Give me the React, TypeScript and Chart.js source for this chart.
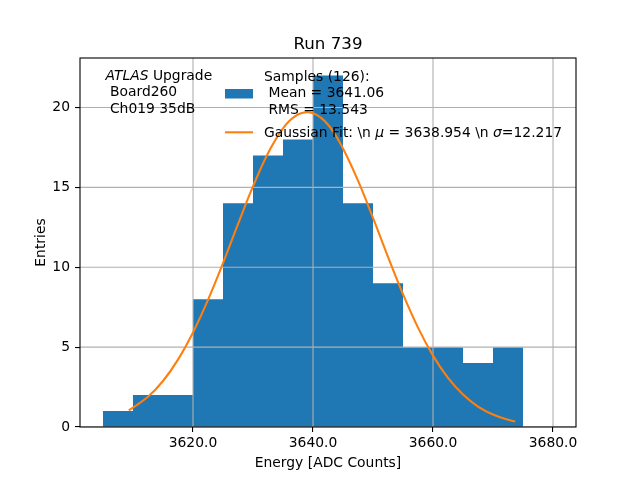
import React, { useEffect, useRef } from 'react';
import { Chart, registerables } from 'chart.js';
Chart.register(...registerables);

// ---- data ----
const binEdges = [3605, 3610, 3615, 3620, 3625, 3630, 3635, 3640, 3645, 3650, 3655, 3660, 3665, 3670, 3675];
const binCounts = [1, 2, 2, 8, 14, 17, 18, 22, 14, 9, 5, 5, 4, 5];
const fitX = [3609.3, 3612.5, 3615, 3617.5, 3620, 3622.5, 3625, 3627.5, 3630, 3632.5, 3635, 3637, 3639, 3641, 3643, 3645, 3647.5, 3650, 3652.5, 3655, 3657.5, 3660, 3662.5, 3665, 3667.5, 3670, 3672.5, 3673.7];
const fitY = [1.04, 1.89, 2.88, 4.22, 5.92, 7.96, 10.26, 12.7, 15.06, 17.14, 18.7, 19.45, 19.7, 19.45, 18.7, 17.43, 15.42, 13.09, 10.65, 8.31, 6.22, 4.47, 3.07, 2.03, 1.28, 0.78, 0.45, 0.34];
const xTicks = [3620, 3640, 3660, 3680];
const yTicks = [0, 5, 10, 15, 20];
const xMin = 3601.17;
const xMax = 3683.83;
const yMin = 0;
const yMax = 23.1;
const titleText = 'Run 739';
const xLabel = 'Energy [ADC Counts]';
const yLabel = 'Entries';
const histLegend = ['Samples (126):', ' Mean = 3641.06', ' RMS = 13.543'];
const fitLegend = [
  { t: 'Gaussian Fit: \\n ', i: false },
  { t: 'μ', i: true },
  { t: ' = 3638.954 \\n ', i: false },
  { t: 'σ', i: true },
  { t: '=12.217', i: false },
];
const infoLines = [
  [{ t: 'ATLAS', i: true }, { t: ' Upgrade', i: false }],
  [{ t: ' Board260', i: false }],
  [{ t: ' Ch019 35dB', i: false }],
];

const FAMILY = '"DejaVu Sans", sans-serif';
const FS = 13.89;
const BLUE = '#1f77b4';
const ORANGE = '#ff7f0e';

function drawSegs(ctx: CanvasRenderingContext2D, segs: { t: string; i: boolean }[], x: number, y: number) {
  let cx = x;
  for (const s of segs) {
    ctx.font = `${s.i ? 'italic ' : ''}${FS}px ${FAMILY}`;
    ctx.fillText(s.t, cx, y);
    cx += ctx.measureText(s.t).width;
  }
}

const overlay = {
  id: 'overlay',
  afterDatasetDraw(chart: any, args: any) {
    if (args.index !== 0) return;
    const { ctx, chartArea: a, scales } = chart;
    ctx.save();
    ctx.beginPath();
    ctx.rect(a.left, a.top, a.right - a.left, a.bottom - a.top);
    ctx.clip();
    ctx.strokeStyle = '#b0b0b0';
    ctx.lineWidth = 1.1;
    for (const t of scales.x.ticks) {
      const px = scales.x.getPixelForValue(t.value);
      ctx.beginPath();
      ctx.moveTo(px, a.top);
      ctx.lineTo(px, a.bottom);
      ctx.stroke();
    }
    for (const t of scales.y.ticks) {
      const py = scales.y.getPixelForValue(t.value);
      ctx.beginPath();
      ctx.moveTo(a.left, py);
      ctx.lineTo(a.right, py);
      ctx.stroke();
    }
    ctx.restore();
  },
  afterDraw(chart: any) {
    const { ctx, chartArea: a } = chart;
    ctx.save();
    // frame
    ctx.strokeStyle = '#000';
    ctx.lineWidth = 1.1;
    ctx.strokeRect(a.left, a.top, a.right - a.left, a.bottom - a.top);
    ctx.fillStyle = '#000';
    // title
    ctx.textAlign = 'center';
    ctx.textBaseline = 'alphabetic';
    ctx.font = `16.67px ${FAMILY}`;
    ctx.fillText(titleText, (a.left + a.right) / 2, 49);
    // x label
    ctx.font = `${FS}px ${FAMILY}`;
    ctx.fillText(xLabel, (a.left + a.right) / 2, 467);
    // y label
    ctx.save();
    ctx.translate(44.5, (a.top + a.bottom) / 2);
    ctx.rotate(-Math.PI / 2);
    ctx.fillText(yLabel, 0, 0);
    ctx.restore();
    // info text
    ctx.textAlign = 'left';
    const infoBase = [79.5, 96, 112.5];
    infoLines.forEach((segs, k) => drawSegs(ctx, segs, 105.5, infoBase[k]));
    // legend
    ctx.fillStyle = BLUE;
    ctx.fillRect(225, 89, 28, 9.5);
    ctx.strokeStyle = ORANGE;
    ctx.lineWidth = 2.08;
    ctx.beginPath();
    ctx.moveTo(225, 132.3);
    ctx.lineTo(253, 132.3);
    ctx.stroke();
    ctx.fillStyle = '#000';
    const legBase = [80.6, 97.3, 114];
    histLegend.forEach((s, k) => drawSegs(ctx, [{ t: s, i: false }], 264, legBase[k]));
    drawSegs(ctx, fitLegend, 264, 136.5);
    ctx.restore();
  },
};

export default function App() {
  const ref = useRef<HTMLCanvasElement | null>(null);
  useEffect(() => {
    if (!ref.current) return;
    const histPts = binCounts.map((c, k) => ({ x: binEdges[k], y: c }));
    histPts.push({ x: binEdges[binEdges.length - 1], y: binCounts[binCounts.length - 1] });
    const fitPts = fitX.map((x, k) => ({ x, y: fitY[k] }));
    const tickFont = { family: FAMILY, size: FS };
    const chart = new Chart(ref.current, {
      type: 'line',
      data: {
        datasets: [
          {
            label: 'hist',
            data: histPts,
            stepped: 'before',
            fill: 'origin',
            backgroundColor: BLUE,
            borderColor: 'rgba(0,0,0,0)',
            borderWidth: 0,
            pointRadius: 0,
            order: 1,
          },
          {
            label: 'fit',
            data: fitPts,
            borderColor: ORANGE,
            borderWidth: 2.08,
            pointRadius: 0,
            fill: false,
            tension: 0.4,
            order: 0,
          },
        ],
      } as any,
      options: {
        animation: false,
        responsive: false,
        devicePixelRatio: 1,
        layout: { padding: { left: 0, top: 58, right: 64, bottom: 0 } },
        plugins: { legend: { display: false }, tooltip: { enabled: false }, title: { display: false } },
        scales: {
          x: {
            type: 'linear',
            min: xMin,
            max: xMax,
            afterBuildTicks: (s: any) => { s.ticks = xTicks.map((v) => ({ value: v })); },
            afterFit: (s: any) => { s.height = 53; },
            ticks: { callback: (v: any) => Number(v).toFixed(1), font: tickFont, color: '#000', padding: 3, maxRotation: 0, autoSkip: false },
            grid: { display: true, drawOnChartArea: false, drawTicks: true, tickLength: 5, color: '#000', lineWidth: 1.1 },
            border: { display: false },
          },
          y: {
            type: 'linear',
            min: yMin,
            max: yMax,
            afterBuildTicks: (s: any) => { s.ticks = yTicks.map((v) => ({ value: v })); },
            afterFit: (s: any) => { s.width = 80; },
            ticks: { callback: (v: any) => String(v), font: tickFont, color: '#000', padding: 5, autoSkip: false },
            grid: { display: true, drawOnChartArea: false, drawTicks: true, tickLength: 5, color: '#000', lineWidth: 1.1 },
            border: { display: false },
          },
        },
      } as any,
      plugins: [overlay],
    });
    return () => chart.destroy();
  }, []);
  return (
    <div style={{ position: 'absolute', left: 0, top: 0, width: 640, height: 480, background: '#fff' }}>
      <canvas ref={ref} width={640} height={480} style={{ width: 640, height: 480, display: 'block' }} />
    </div>
  );
}
